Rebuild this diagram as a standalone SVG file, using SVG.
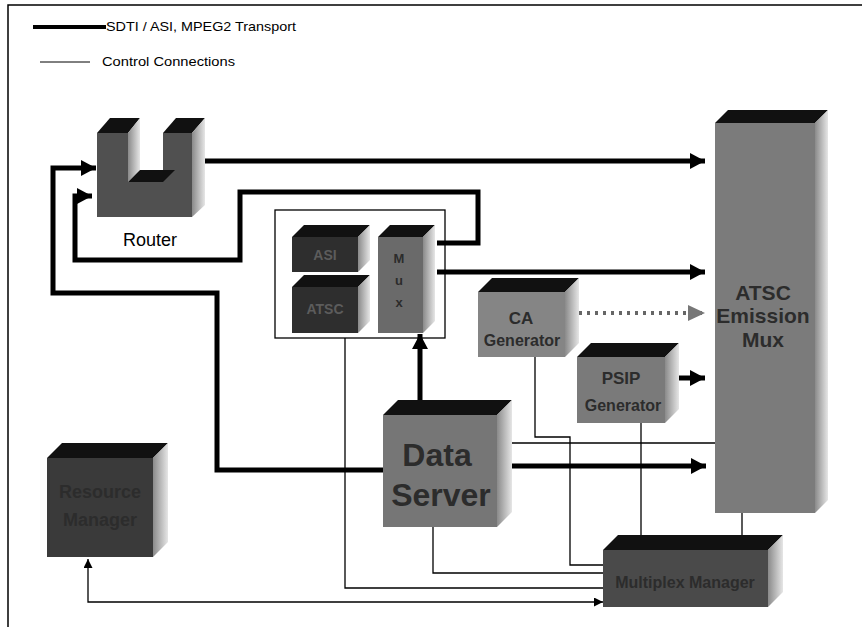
<svg xmlns="http://www.w3.org/2000/svg" width="862" height="627" viewBox="0 0 862 627">
<defs>
<linearGradient id="side" x1="0" y1="0" x2="1" y2="0">
<stop offset="0" stop-color="#8a8a8a"/><stop offset="1" stop-color="#e6e6e6"/>
</linearGradient>
<marker id="ah" markerUnits="userSpaceOnUse" markerWidth="16" markerHeight="16" refX="15" refY="8" orient="auto">
<path d="M0,0 L15,8 L0,16 Z" fill="#000"/>
</marker>
<marker id="ahg" markerUnits="userSpaceOnUse" markerWidth="18" markerHeight="16" refX="17" refY="8" orient="auto">
<path d="M0,0 L17,8 L0,16 Z" fill="#777"/>
</marker>
<marker id="as" markerUnits="userSpaceOnUse" markerWidth="10" markerHeight="10" refX="9" refY="4.5" orient="auto-start-reverse">
<path d="M0,0 L9,4.5 L0,9 Z" fill="#000"/>
</marker>
</defs>
<style>
.top{fill:#111}
.side{fill:url(#side)}
.thick{fill:none;stroke:#000;stroke-width:5;stroke-linejoin:miter}
.thin{fill:none;stroke:#000;stroke-width:1.3}
.lbl{font-family:"Liberation Sans",Arial,sans-serif;fill:#2c2c2c;font-weight:bold;text-anchor:middle}
.lbl.lt{fill:#5c5c5c}
.leg{font-family:"Liberation Sans",Arial,sans-serif;font-size:13.5px;fill:#000}
</style>
<rect width="862" height="627" fill="#fff"/>
<path d="M8,627 V5 H862" fill="none" stroke="#000" stroke-width="1.5"/>

<g id="legend">
<line x1="33" y1="27" x2="106" y2="27" stroke="#000" stroke-width="4"/>
<text class="leg" x="106" y="31" textLength="190" lengthAdjust="spacingAndGlyphs">SDTI / ASI, MPEG2 Transport</text>
<line x1="40" y1="62" x2="90" y2="62" stroke="#000" stroke-width="1"/>
<text class="leg" x="102" y="66" textLength="133" lengthAdjust="spacingAndGlyphs">Control Connections</text>
</g>

<g id="connectors">
<path class="thick" d="M205,161 H705" marker-end="url(#ah)"/>
<path class="thick" d="M383,470 H217 V293 H53 V168 H96" marker-end="url(#ah)"/>
<path class="thick" d="M437,243 H478 V192 H240 V260 H75 V196 H92" marker-end="url(#ah)"/>
<path class="thick" d="M437,272 H705" marker-end="url(#ah)"/>
<path d="M579,313 H705" fill="none" stroke="#666" stroke-width="4" stroke-dasharray="3 5" marker-end="url(#ahg)"/>
<path class="thick" d="M678,378 H705" marker-end="url(#ah)"/>
<path class="thick" d="M512,466 H706" marker-end="url(#ah)"/>
<path class="thick" d="M420,400 V334" marker-end="url(#ah)"/>
<path class="thin" d="M512,443 H715"/>
<path class="thin" d="M535,357 V437 H570 V565 H603"/>
<path class="thin" d="M641,423 V535"/>
<path class="thin" d="M742,513 V535"/>
<path class="thin" d="M433,527 V573 H603"/>
<path class="thin" d="M345,338 V588 H603"/>
<path class="thin" d="M88,559 V602 H603" marker-start="url(#as)" marker-end="url(#as)"/>
</g>

<g id="router">
<path d="M97,133 H128 V182 H163 V133 H192 V217 H97 Z" fill="#505050"/>
<polygon class="top" points="97,133 110,118 140,118 128,133"/>
<polygon class="top" points="163,133 176,118 205,118 192,133"/>
<polygon class="side" points="128,133 140,118 140,170 128,182"/>
<polygon class="top" points="128,182 140,170 175,170 163,182"/>
<polygon class="side" points="192,133 205,118 205,205 192,217"/>
<text x="150" y="246" font-family="Liberation Sans,Arial,sans-serif" font-size="18" text-anchor="middle" fill="#000">Router</text>
</g>

<g id="encoder-group">
<rect x="275" y="210" width="170" height="128" fill="none" stroke="#000" stroke-width="1.3"/>
</g>

<g id="box-asi">
<rect x="292" y="237" width="66" height="35" fill="#2e2e2e"/>
<polygon class="top" points="292,237 304,225 370,225 358,237"/>
<polygon class="side" points="358,237 370,225 370,260 358,272"/>
<text class="lbl lt" x="325" y="260" font-size="14">ASI</text>
</g>

<g id="box-atsc-enc">
<rect x="292" y="287" width="66" height="46" fill="#2e2e2e"/>
<polygon class="top" points="292,287 304,275 370,275 358,287"/>
<polygon class="side" points="358,287 370,275 370,321 358,333"/>
<text class="lbl lt" x="325" y="314" font-size="14">ATSC</text>
</g>

<g id="mux">
<rect x="378" y="237" width="45" height="96" fill="#6a6a6a"/>
<polygon class="top" points="378,237 390,225 435,225 423,237"/>
<polygon class="side" points="423,237 435,225 435,321 423,333"/>
<text class="lbl" x="399" y="263" font-size="13">M</text>
<text class="lbl" x="399" y="285" font-size="13">u</text>
<text class="lbl" x="399" y="307" font-size="13">x</text>
</g>

<g id="ca-generator">
<rect x="478" y="292" width="87" height="65" fill="#858585"/>
<polygon class="top" points="478,292 492,278 579,278 565,292"/>
<polygon class="side" points="565,292 579,278 579,343 565,357"/>
<text class="lbl" x="521" y="324" font-size="17">CA</text>
<text class="lbl" x="522" y="346" font-size="16">Generator</text>
</g>

<g id="psip-generator">
<rect x="577" y="357" width="88" height="66" fill="#7a7a7a"/>
<polygon class="top" points="577,357 591,343 679,343 665,357"/>
<polygon class="side" points="665,357 679,343 679,409 665,423"/>
<text class="lbl" x="621" y="384" font-size="17">PSIP</text>
<text class="lbl" x="623" y="411" font-size="16">Generator</text>
</g>

<g id="data-server">
<rect x="383" y="415" width="114" height="112" fill="#767676"/>
<polygon class="top" points="383,415 398,400 512,400 497,415"/>
<polygon class="side" points="497,415 512,400 512,512 497,527"/>
<text class="lbl" x="437" y="466" font-size="32">Data</text>
<text class="lbl" x="441" y="506" font-size="32">Server</text>
</g>

<g id="atsc-emission-mux">
<rect x="715" y="123" width="100" height="390" fill="#7b7b7b"/>
<polygon class="top" points="715,123 728,110 828,110 815,123"/>
<polygon class="side" points="815,123 828,110 828,500 815,513"/>
<text class="lbl" x="763" y="300" font-size="21">ATSC</text>
<text class="lbl" x="763" y="323" font-size="21">Emission</text>
<text class="lbl" x="763" y="347" font-size="21">Mux</text>
</g>

<g id="resource-manager">
<rect x="47" y="458" width="106" height="99" fill="#3a3a3a"/>
<polygon class="top" points="47,458 62,443 168,443 153,458"/>
<polygon class="side" points="153,458 168,443 168,542 153,557"/>
<text class="lbl" x="100" y="498" font-size="18">Resource</text>
<text class="lbl" x="100" y="526" font-size="18">Manager</text>
</g>

<g id="multiplex-manager">
<rect x="603" y="550" width="165" height="57" fill="#4a4a4a"/>
<polygon class="top" points="603,550 618,535 783,535 768,550"/>
<polygon class="side" points="768,550 783,535 783,592 768,607"/>
<text class="lbl" x="685" y="588" font-size="16">Multiplex Manager</text>
</g>
</svg>
